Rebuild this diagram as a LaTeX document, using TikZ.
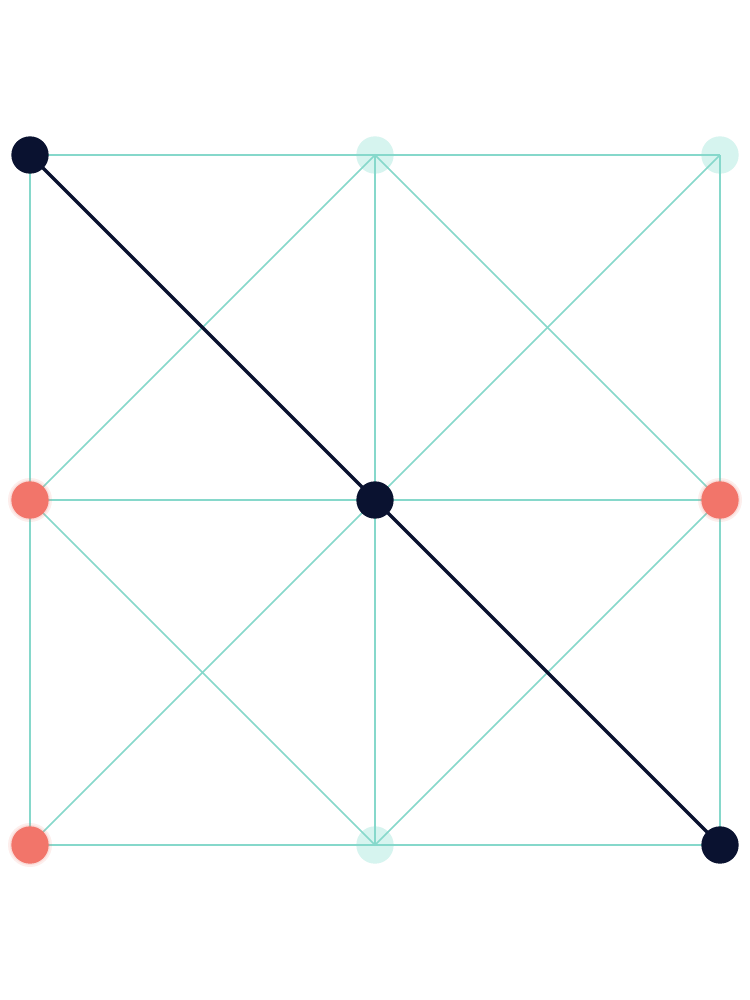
\documentclass[tikz,border=0pt]{standalone}
\definecolor{navy}{HTML}{0A1230}
\definecolor{teal}{HTML}{86D8CB}
\definecolor{lteal}{HTML}{D6F4EF}
\definecolor{coral}{HTML}{F2756A}
\tikzset{
  grid/.style={draw=teal, line width=1.1pt},
  hot/.style={draw=navy, line width=2.4pt},
  pt/.style={circle, inner sep=0pt, minimum size=28pt},
  darkpt/.style={pt, fill=navy},
  lightpt/.style={pt, fill=lteal},
  coralpt/.style={pt, fill=coral},
}
\begin{document}
\begin{tikzpicture}[x=0.75pt,y=-0.75pt]
\useasboundingbox (0,0) rectangle (750,1000);
\fill[white] (0,0) rectangle (750,1000);
% light nodes behind lines
\node[lightpt] (b) at (375,155) {};
\node[lightpt] (c) at (720,155) {};
\node[lightpt] (h) at (375,845) {};
\coordinate (a0) at (30,155);
\coordinate (d0) at (30,500);
\coordinate (e0) at (375,500);
\coordinate (f0) at (720,500);
\coordinate (g0) at (30,845);
\coordinate (i0) at (720,845);
% grid lines
\draw[grid] (a0) -- (b.center) -- (c.center);
\draw[grid] (d0) -- (e0) -- (f0);
\draw[grid] (g0) -- (h.center) -- (i0);
\draw[grid] (a0) -- (d0) -- (g0);
\draw[grid] (b.center) -- (e0) -- (h.center);
\draw[grid] (c.center) -- (f0) -- (i0);
\draw[grid] (b.center) -- (d0) -- (h.center) -- (f0) -- cycle;
\draw[grid] (c.center) -- (e0) -- (g0);
% front nodes with a soft glow
\foreach \p in {d0,f0,g0}{
  \fill[coral, opacity=0.12] (\p) circle (16.5pt);
  \fill[coral, opacity=0.15] (\p) circle (15pt);
}
\node[coralpt] (d) at (d0) {};
\node[coralpt] (f) at (f0) {};
\node[coralpt] (g) at (g0) {};
\draw[hot] (a0) -- (e0) -- (i0);
\node[darkpt] (a) at (a0) {};
\node[darkpt] (e) at (e0) {};
\node[darkpt] (i) at (i0) {};
\end{tikzpicture}
\end{document}
